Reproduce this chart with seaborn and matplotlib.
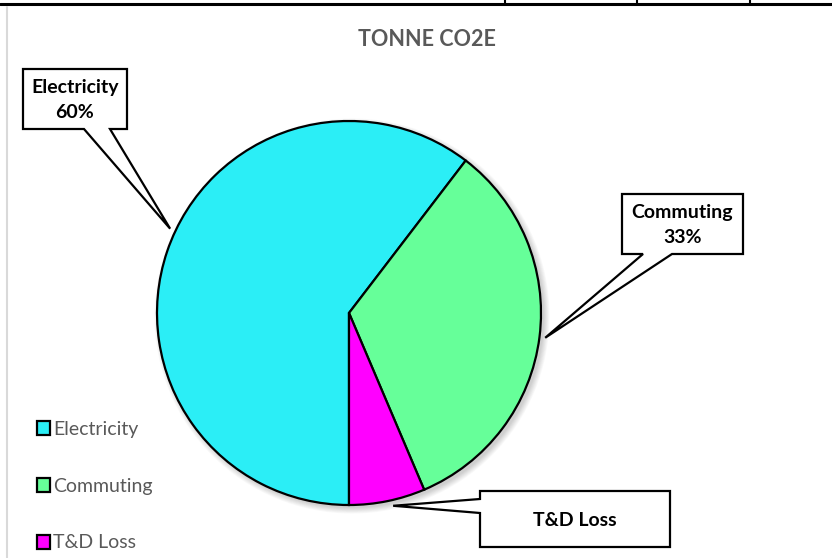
import numpy as np
import seaborn as sns
import matplotlib.pyplot as plt
from matplotlib.patches import Polygon, Circle
from matplotlib.lines import Line2D

# Data
categories = ['Electricity', 'Commuting', 'T&D Loss']
values = [60.4, 33.2, 6.4]
colors = ['#2BEEF6', '#66FF99', '#FF00FF']
show_pct = [True, True, False]

sns.set_theme(style="white")
plt.rcParams['font.family'] = ['Lato', 'DejaVu Sans']

W, H = 832, 558
fig = plt.figure(figsize=(W / 100, H / 100), dpi=100)
ax = fig.add_axes([0, 0, 1, 1])


def P(px, py):
    # pixel (top-left origin) -> data coords
    return (px, H - py)


cx, cy, R = 349, 313, 192

# soft shadow behind the pie
for i in range(8):
    ax.add_patch(Circle(P(cx + 3, cy + 3), R + i * 0.8, color='black',
                        alpha=0.025, lw=0, zorder=0))

wedges, _ = ax.pie(values, colors=colors, startangle=270, counterclock=False,
                   center=P(cx, cy), radius=R,
                   wedgeprops=dict(edgecolor='black', linewidth=1.6))
for w in wedges:
    w.set_zorder(2)

ax.set_xlim(0, W)
ax.set_ylim(0, H)
ax.set_aspect('equal')
ax.axis('off')

# callout layout: box (x0, y0, x1, y1), pointer edge + base span, tip position on arc
callouts = [
    dict(box=(23, 69, 127, 129), edge='bottom', base=(84, 110), frac=0.47),
    dict(box=(622, 194, 743, 254), edge='bottom', base=(643, 672), frac=0.5),
    dict(box=(480, 491, 670, 547), edge='left', base=(499, 513), frac=0.56),
]

total = sum(values)
for w, cat, v, sp, c in zip(wedges, categories, values, show_pct, callouts):
    ang = np.deg2rad(w.theta1 + (w.theta2 - w.theta1) * c['frac'])
    tx, ty = w.center[0] + R * 1.03 * np.cos(ang), w.center[1] + R * 1.03 * np.sin(ang)
    x0, y0, x1, y1 = c['box']
    a, b = c['base']
    if c['edge'] == 'bottom':
        pts = [P(x0, y0), P(x1, y0), P(x1, y1), P(b, y1), (tx, ty), P(a, y1), P(x0, y1)]
    else:
        pts = [P(x0, y0), P(x1, y0), P(x1, y1), P(x0, y1), P(x0, b), (tx, ty), P(x0, a)]
    ax.add_patch(Polygon(pts, closed=True, facecolor='white', edgecolor='black',
                         lw=1.6, zorder=3))
    label = f"{cat}\n{v / total * 100:.0f}%" if sp else cat
    ax.text(*P((x0 + x1) / 2, (y0 + y1) / 2 + 1), label, ha='center', va='center',
            fontsize=14, fontweight='bold', color='black', linespacing=1.6, zorder=4)

ax.text(*P(427, 40), 'TONNE CO2E', ha='center', va='center', fontsize=15.5,
        fontweight='bold', color='#595959')

ax.legend(wedges, categories, loc='upper left', bbox_to_anchor=P(29, 413),
          bbox_transform=ax.transData, frameon=False, fontsize=14,
          labelcolor='#595959', handlelength=0.7, handleheight=0.7,
          handletextpad=0.15, labelspacing=2.05, borderaxespad=0)

# frame lines of the surrounding sheet
fig.add_artist(Line2D([0, 1], [1 - 4 / H, 1 - 4 / H], color='black', lw=2.2))
for x in (505, 637, 750):
    fig.add_artist(Line2D([x / W, x / W], [1 - 4 / H, 1], color='black', lw=1.5))
fig.add_artist(Line2D([7 / W, 7 / W], [0, 1 - 7 / H], color='#d9d9d9', lw=1.5))

fig.savefig('out.png', dpi=100)
